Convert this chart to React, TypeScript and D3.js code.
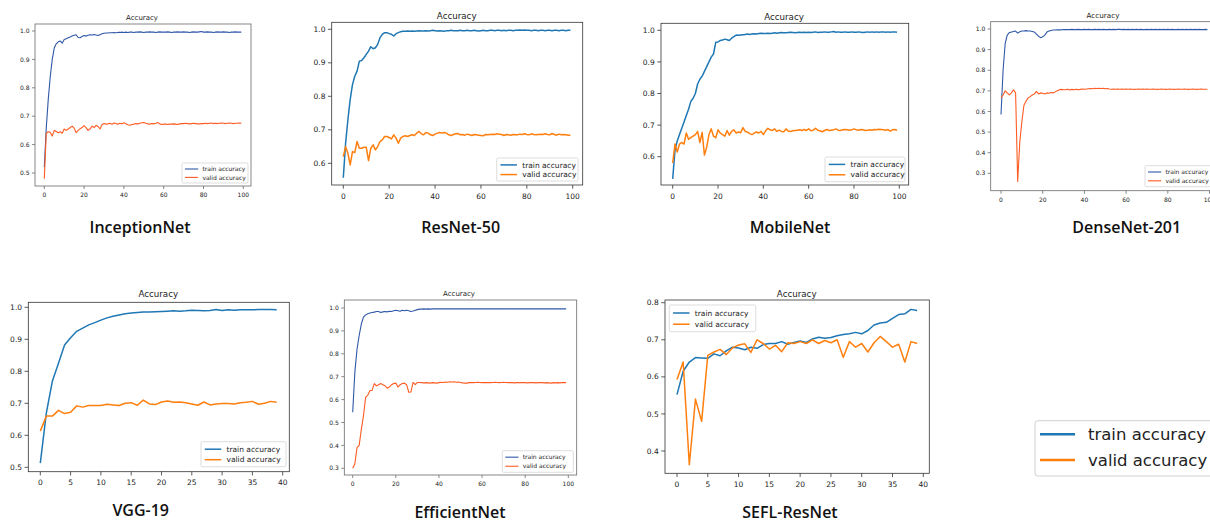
import React from "react"
import * as d3 from "d3"

// ---- data ----
const inceptionTrain = [0.52,0.66,0.76,0.84,0.90,0.94,0.955,0.962,0.965,0.957,0.970,0.973,0.976,0.979,0.982,0.985,0.987,0.977,0.976,0.981,0.984,0.982,0.985,0.987,0.986,0.988,0.986,0.984,0.987,0.990,0.992,0.993,0.993,0.994,0.994,0.995,0.994,0.995,0.995,0.996,0.995,0.996,0.995,0.996,0.996,0.995,0.996,0.996,0.997,0.996,0.995,0.996,0.996,0.997,0.996,0.996,0.995,0.996,0.997,0.996,0.996,0.996,0.997,0.996,0.995,0.996,0.996,0.997,0.996,0.996,0.997,0.996,0.996,0.995,0.996,0.997,0.996,0.996,0.997,0.998,0.996,0.996,0.997,0.996,0.996,0.995,0.996,0.997,0.996,0.996,0.997,0.996,0.996,0.995,0.996,0.996,0.997,0.996,0.996,0.996]
const inceptionValid = [0.48,0.64,0.645,0.643,0.63,0.65,0.646,0.642,0.645,0.64,0.655,0.65,0.655,0.66,0.665,0.658,0.642,0.65,0.656,0.66,0.667,0.66,0.65,0.655,0.665,0.66,0.668,0.664,0.655,0.67,0.674,0.672,0.673,0.675,0.672,0.676,0.674,0.672,0.675,0.673,0.677,0.673,0.67,0.668,0.671,0.672,0.674,0.673,0.675,0.677,0.678,0.675,0.673,0.672,0.674,0.673,0.675,0.678,0.673,0.671,0.672,0.672,0.671,0.672,0.672,0.673,0.672,0.671,0.673,0.674,0.674,0.675,0.674,0.673,0.674,0.675,0.674,0.673,0.673,0.674,0.674,0.675,0.674,0.675,0.676,0.674,0.675,0.674,0.675,0.676,0.675,0.674,0.675,0.676,0.675,0.674,0.675,0.675,0.676,0.675]

const resnetTrain = [0.557,0.66,0.73,0.79,0.835,0.86,0.875,0.905,0.907,0.915,0.925,0.935,0.948,0.942,0.945,0.955,0.975,0.985,0.99,0.99,0.987,0.985,0.98,0.987,0.99,0.993,0.994,0.994,0.995,0.994,0.995,0.994,0.995,0.996,0.995,0.995,0.996,0.995,0.996,0.997,0.996,0.995,0.996,0.995,0.994,0.996,0.996,0.997,0.996,0.996,0.996,0.997,0.996,0.996,0.997,0.996,0.996,0.997,0.996,0.995,0.996,0.997,0.996,0.996,0.997,0.997,0.996,0.997,0.997,0.996,0.997,0.996,0.997,0.997,0.996,0.997,0.997,0.998,0.997,0.998,0.997,0.997,0.996,0.997,0.997,0.996,0.997,0.997,0.996,0.997,0.997,0.996,0.997,0.997,0.996,0.997,0.997,0.996,0.997,0.997]
const resnetValid = [0.62,0.65,0.63,0.595,0.635,0.632,0.665,0.645,0.645,0.648,0.648,0.608,0.645,0.655,0.64,0.65,0.665,0.67,0.68,0.68,0.677,0.673,0.685,0.675,0.66,0.675,0.68,0.682,0.68,0.683,0.685,0.683,0.69,0.695,0.688,0.685,0.692,0.69,0.685,0.683,0.687,0.69,0.692,0.69,0.692,0.69,0.685,0.683,0.686,0.688,0.689,0.685,0.686,0.684,0.687,0.685,0.683,0.686,0.685,0.684,0.683,0.682,0.686,0.685,0.686,0.687,0.686,0.688,0.687,0.686,0.683,0.686,0.685,0.684,0.686,0.685,0.685,0.687,0.686,0.688,0.686,0.685,0.688,0.686,0.685,0.686,0.687,0.686,0.688,0.686,0.685,0.689,0.686,0.684,0.687,0.685,0.686,0.685,0.684,0.684]

const mobileTrain = [0.53,0.62,0.65,0.67,0.69,0.71,0.73,0.75,0.775,0.785,0.80,0.83,0.845,0.855,0.87,0.885,0.90,0.915,0.925,0.962,0.963,0.968,0.969,0.972,0.97,0.968,0.975,0.98,0.985,0.984,0.985,0.986,0.987,0.988,0.987,0.988,0.989,0.988,0.99,0.991,0.99,0.99,0.991,0.99,0.991,0.992,0.991,0.992,0.993,0.992,0.992,0.993,0.994,0.993,0.992,0.993,0.994,0.993,0.994,0.993,0.994,0.993,0.994,0.995,0.993,0.994,0.994,0.995,0.994,0.994,0.995,0.996,0.994,0.995,0.994,0.994,0.995,0.994,0.994,0.995,0.994,0.994,0.995,0.994,0.993,0.994,0.995,0.994,0.995,0.994,0.995,0.994,0.995,0.995,0.994,0.995,0.994,0.995,0.995,0.994]
const mobileValid = [0.58,0.64,0.615,0.64,0.645,0.64,0.675,0.655,0.66,0.665,0.67,0.68,0.645,0.677,0.605,0.63,0.67,0.688,0.665,0.66,0.685,0.675,0.67,0.665,0.683,0.668,0.68,0.685,0.675,0.678,0.676,0.692,0.68,0.678,0.673,0.67,0.675,0.678,0.675,0.68,0.67,0.682,0.69,0.685,0.683,0.688,0.68,0.684,0.68,0.679,0.688,0.681,0.68,0.682,0.683,0.684,0.685,0.683,0.686,0.683,0.688,0.682,0.684,0.69,0.684,0.682,0.679,0.683,0.686,0.683,0.684,0.685,0.688,0.684,0.683,0.685,0.686,0.685,0.684,0.685,0.688,0.685,0.684,0.686,0.685,0.683,0.684,0.685,0.684,0.686,0.685,0.687,0.686,0.685,0.684,0.686,0.681,0.685,0.686,0.684]

const denseTrain = [0.585,0.80,0.93,0.97,0.983,0.985,0.988,0.99,0.98,0.987,0.99,0.99,0.992,0.99,0.99,0.988,0.985,0.975,0.965,0.958,0.962,0.97,0.985,0.99,0.993,0.995,0.995,0.996,0.996,0.996,0.997,0.997,0.997,0.997,0.998,0.997,0.997,0.998,0.997,0.997,0.998,0.997,0.998,0.997,0.997,0.998,0.997,0.998,0.997,0.998,0.997,0.997,0.998,0.997,0.998,0.997,0.998,0.998,0.997,0.998,0.997,0.998,0.997,0.998,0.997,0.998,0.997,0.998,0.997,0.997,0.998,0.997,0.998,0.997,0.998,0.997,0.998,0.997,0.998,0.997,0.998,0.997,0.998,0.997,0.997,0.998,0.997,0.998,0.997,0.998,0.997,0.998,0.997,0.998,0.997,0.998,0.997,0.997,0.998,0.997]
const denseValid = [0.665,0.68,0.70,0.69,0.68,0.69,0.705,0.69,0.26,0.45,0.55,0.63,0.65,0.665,0.672,0.68,0.685,0.697,0.685,0.69,0.688,0.685,0.69,0.688,0.692,0.69,0.695,0.70,0.705,0.707,0.705,0.706,0.708,0.704,0.707,0.705,0.708,0.706,0.707,0.709,0.708,0.709,0.71,0.711,0.71,0.712,0.711,0.712,0.711,0.712,0.71,0.711,0.709,0.708,0.709,0.708,0.709,0.708,0.709,0.708,0.709,0.708,0.709,0.708,0.707,0.708,0.709,0.708,0.709,0.708,0.709,0.708,0.708,0.709,0.708,0.707,0.708,0.709,0.708,0.707,0.708,0.709,0.708,0.707,0.708,0.709,0.708,0.708,0.709,0.708,0.707,0.708,0.709,0.708,0.707,0.708,0.709,0.708,0.708,0.708]

const vggTrain = [0.513,0.67,0.77,0.825,0.882,0.905,0.925,0.935,0.945,0.952,0.96,0.967,0.972,0.976,0.98,0.982,0.984,0.985,0.985,0.986,0.987,0.988,0.989,0.988,0.989,0.991,0.99,0.989,0.99,0.993,0.99,0.992,0.991,0.992,0.992,0.992,0.993,0.993,0.993,0.992]
const vggValid = [0.613,0.66,0.66,0.678,0.668,0.672,0.692,0.688,0.693,0.693,0.693,0.697,0.695,0.693,0.7,0.702,0.694,0.71,0.698,0.696,0.704,0.707,0.703,0.704,0.702,0.698,0.694,0.704,0.695,0.698,0.699,0.699,0.698,0.702,0.703,0.706,0.697,0.7,0.706,0.703]

const effTrain = [0.545,0.72,0.82,0.88,0.93,0.96,0.97,0.975,0.978,0.98,0.982,0.985,0.985,0.98,0.983,0.985,0.983,0.986,0.985,0.988,0.99,0.988,0.986,0.99,0.988,0.99,0.988,0.985,0.987,0.99,0.993,0.995,0.995,0.996,0.995,0.996,0.995,0.996,0.996,0.997,0.996,0.996,0.997,0.996,0.996,0.997,0.996,0.996,0.997,0.996,0.996,0.997,0.996,0.996,0.997,0.996,0.997,0.996,0.996,0.997,0.996,0.996,0.997,0.996,0.997,0.996,0.996,0.997,0.996,0.996,0.997,0.996,0.996,0.997,0.996,0.997,0.996,0.996,0.997,0.996,0.996,0.997,0.996,0.996,0.997,0.996,0.996,0.997,0.996,0.997,0.996,0.996,0.997,0.996,0.996,0.997,0.996,0.996,0.997,0.996]
const effValid = [0.30,0.32,0.39,0.40,0.47,0.53,0.61,0.62,0.64,0.64,0.67,0.66,0.665,0.67,0.665,0.66,0.65,0.655,0.665,0.67,0.672,0.655,0.665,0.67,0.672,0.665,0.632,0.633,0.675,0.665,0.675,0.675,0.674,0.673,0.674,0.673,0.672,0.674,0.673,0.672,0.674,0.676,0.675,0.677,0.676,0.678,0.677,0.678,0.676,0.677,0.675,0.673,0.672,0.672,0.674,0.675,0.674,0.675,0.676,0.675,0.674,0.675,0.674,0.675,0.674,0.675,0.676,0.675,0.674,0.675,0.676,0.675,0.674,0.675,0.674,0.673,0.674,0.675,0.674,0.675,0.674,0.673,0.674,0.675,0.674,0.673,0.674,0.675,0.674,0.673,0.674,0.673,0.672,0.674,0.673,0.674,0.673,0.674,0.675,0.674]

const seflTrain = [0.552,0.615,0.64,0.652,0.651,0.65,0.662,0.657,0.67,0.68,0.678,0.673,0.68,0.677,0.687,0.69,0.69,0.695,0.688,0.693,0.697,0.693,0.702,0.707,0.704,0.706,0.711,0.714,0.716,0.72,0.716,0.725,0.74,0.745,0.747,0.758,0.768,0.77,0.782,0.779]
const seflValid = [0.593,0.64,0.363,0.54,0.48,0.658,0.667,0.674,0.66,0.678,0.686,0.689,0.666,0.7,0.69,0.675,0.685,0.668,0.692,0.69,0.695,0.69,0.7,0.69,0.698,0.692,0.7,0.653,0.695,0.68,0.69,0.667,0.692,0.709,0.695,0.68,0.688,0.64,0.695,0.69]

const seriesLabels = ["train accuracy", "valid accuracy"]
const ticks100 = [0, 20, 40, 60, 80, 100]
const ticks40 = [0, 5, 10, 15, 20, 25, 30, 35, 40]

// ---- layout ----
const BLUE = "#1f77b4"
const ORANGE = "#ff7f0e"
const BLUE_LO = "#2f58a8"
const ORANGE_LO = "#ff5b22"

const panels = [
  { name: "InceptionNet", train: inceptionTrain, valid: inceptionValid, xTicks: ticks100, yTicks: [0.5, 0.6, 0.7, 0.8, 0.9, 1.0],
    frame: [35, 24, 251, 186], xPx: [44.3, 243.3], yPx: [173, 31], title: [142, 18], label: [140, 227],
    legend: [182, 163, 66, 20], fs: 6, tfs: 7, lw: 1.1, colors: [BLUE_LO, ORANGE_LO], frameColor: "#6a6a6a" },
  { name: "ResNet-50", train: resnetTrain, valid: resnetValid, xTicks: ticks100, yTicks: [0.6, 0.7, 0.8, 0.9, 1.0],
    frame: [331.7, 22.3, 582.7, 185], xPx: [343.3, 572.7], yPx: [163.3, 29.3], title: [456.7, 15.7], label: [460.7, 227],
    legend: [496.7, 158, 81.3, 23], fs: 7.5, tfs: 8.7, lw: 1.5, colors: [BLUE, ORANGE], frameColor: "#333" },
  { name: "MobileNet", train: mobileTrain, valid: mobileValid, xTicks: ticks100, yTicks: [0.6, 0.7, 0.8, 0.9, 1.0],
    frame: [661, 23.3, 908.7, 185], xPx: [672.7, 899.3], yPx: [156.7, 30.3], title: [784, 17.3], label: [790, 227],
    legend: [825, 157, 80, 24.7], fs: 7.5, tfs: 8.7, lw: 1.5, colors: [BLUE, ORANGE], frameColor: "#333" },
  { name: "DenseNet-201", train: denseTrain, valid: denseValid, xTicks: ticks100, yTicks: [0.3, 0.4, 0.5, 0.6, 0.7, 0.8, 0.9, 1.0],
    frame: [990.7, 21.7, 1222, 190.7], xPx: [1001, 1209.5], yPx: [173.3, 29], title: [1103, 15], label: [1126.7, 227],
    legend: [1145, 165.7, 80, 21], fs: 6, tfs: 7.2, lw: 1.1, colors: [BLUE_LO, ORANGE_LO], frameColor: "#6a6a6a" },
  { name: "VGG-19", train: vggTrain, valid: vggValid, xTicks: ticks40, yTicks: [0.5, 0.6, 0.7, 0.8, 0.9, 1.0],
    frame: [28.3, 302.3, 289.3, 471.7], xPx: [40.3, 282.7], yPx: [467.3, 307.3], title: [158.3, 294], label: [140.7, 510],
    legend: [201, 441.7, 85, 25], fs: 7.5, tfs: 8.7, lw: 1.5, colors: [BLUE, ORANGE], frameColor: "#333" },
  { name: "EfficientNet", train: effTrain, valid: effValid, xTicks: ticks100, yTicks: [0.3, 0.4, 0.5, 0.6, 0.7, 0.8, 0.9, 1.0],
    frame: [344.3, 300, 576.7, 475], xPx: [352.7, 568.3], yPx: [468.3, 308], title: [459, 294], label: [460, 512],
    legend: [502.3, 450.7, 71, 21.6], fs: 6, tfs: 7, lw: 1.1, colors: [BLUE_LO, ORANGE_LO], frameColor: "#6a6a6a" },
  { name: "SEFL-ResNet", train: seflTrain, valid: seflValid, xTicks: ticks40, yTicks: [0.4, 0.5, 0.6, 0.7, 0.8],
    frame: [665, 300, 929.3, 473.3], xPx: [677, 923.3], yPx: [451, 302.7], title: [796.7, 294], label: [790, 512],
    legend: [669.3, 305, 86.4, 26.7], fs: 7.5, tfs: 8.7, lw: 1.5, colors: [BLUE, ORANGE], frameColor: "#333" },
]

const tickFont = "DejaVu Sans, sans-serif"

function Panel({ p }: { p: any }) {
  const [l, t, r, b] = p.frame
  const xTicks: number[] = p.xTicks
  const yTicks: number[] = p.yTicks
  const x = d3.scaleLinear().domain([xTicks[0], xTicks[xTicks.length - 1]]).range(p.xPx)
  const y = d3.scaleLinear().domain([yTicks[0], yTicks[yTicks.length - 1]]).range(p.yPx)
  const line = d3.line<number>().x((_, i) => x(i)).y(d => y(d))
  const tickLen = p.fs * 0.5
  const clipId = `clip-${p.name}`
  const [lx, ly, lW, lH] = p.legend
  const rowY = [ly + lH * 0.3, ly + lH * 0.72]
  const lineLen = p.fs * 2.2

  return (
    <g>
      <clipPath id={clipId}>
        <rect x={l} y={t} width={r - l} height={b - t} />
      </clipPath>
      <rect x={l} y={t} width={r - l} height={b - t} fill="#fff" />
      <g clipPath={`url(#${clipId})`}>
        <path d={line(p.train) || ""} fill="none" stroke={p.colors[0]} strokeWidth={p.lw} strokeLinejoin="round" />
        <path d={line(p.valid) || ""} fill="none" stroke={p.colors[1]} strokeWidth={p.lw} strokeLinejoin="round" />
      </g>
      <rect x={l} y={t} width={r - l} height={b - t} fill="none" stroke={p.frameColor} strokeWidth={0.8} />

      {/* x axis */}
      {xTicks.map(v => (
        <g key={`x${v}`} transform={`translate(${x(v)},${b})`}>
          <line y2={tickLen} stroke={p.frameColor} strokeWidth={0.8} />
          <text y={tickLen + p.fs * 0.35 + 2} dy="0.71em" textAnchor="middle" fontSize={p.fs} fontFamily={tickFont} fill="#222">{v}</text>
        </g>
      ))}
      {/* y axis */}
      {yTicks.map(v => (
        <g key={`y${v}`} transform={`translate(${l},${y(v)})`}>
          <line x2={-tickLen} stroke={p.frameColor} strokeWidth={0.8} />
          <text x={-tickLen - 2.5} dy="0.35em" textAnchor="end" fontSize={p.fs} fontFamily={tickFont} fill="#222">{v.toFixed(1)}</text>
        </g>
      ))}

      <text x={p.title[0]} y={p.title[1]} dy="0.35em" textAnchor="middle" fontSize={p.tfs} fontFamily={tickFont} fill="#222">Accuracy</text>

      {/* legend */}
      <rect x={lx} y={ly} width={lW} height={lH} rx={1.5} fill="#fff" fillOpacity={0.85} stroke="#cfcfcf" strokeWidth={0.7} />
      {seriesLabels.map((s, i) => (
        <g key={s}>
          <line x1={lx + p.fs * 0.5} x2={lx + p.fs * 0.5 + lineLen} y1={rowY[i]} y2={rowY[i]} stroke={p.colors[i]} strokeWidth={p.lw} />
          <text x={lx + p.fs * 0.5 + lineLen + p.fs * 0.7} y={rowY[i]} dy="0.35em" fontSize={p.fs} fontFamily={tickFont} fill="#222">{s}</text>
        </g>
      ))}

      <text x={p.label[0]} y={p.label[1]} dy="0.35em" textAnchor="middle" fontSize={16} fontWeight={600} fontFamily="Open Sans, Noto Sans, sans-serif" fill="#111">{p.name}</text>
    </g>
  )
}

export default function App() {
  const bigRows = [434.3, 460]
  return (
    <svg width={1210} height={523} style={{ position: "absolute", left: 0, top: 0, background: "#fff" }}>
      <rect width={1210} height={523} fill="#fff" />
      {panels.map(p => <Panel key={p.name} p={p} />)}
      {/* shared legend */}
      <rect x={1035} y={420.7} width={200} height={55.3} rx={3} fill="#fff" stroke="#d0d0d0" strokeWidth={1} />
      {seriesLabels.map((s, i) => (
        <g key={s}>
          <line x1={1040} x2={1075} y1={bigRows[i]} y2={bigRows[i]} stroke={[BLUE, ORANGE][i]} strokeWidth={2.5} />
          <text x={1088} y={bigRows[i]} dy="0.35em" fontSize={16.5} fontFamily={tickFont} fill="#222">{s}</text>
        </g>
      ))}
    </svg>
  )
}
